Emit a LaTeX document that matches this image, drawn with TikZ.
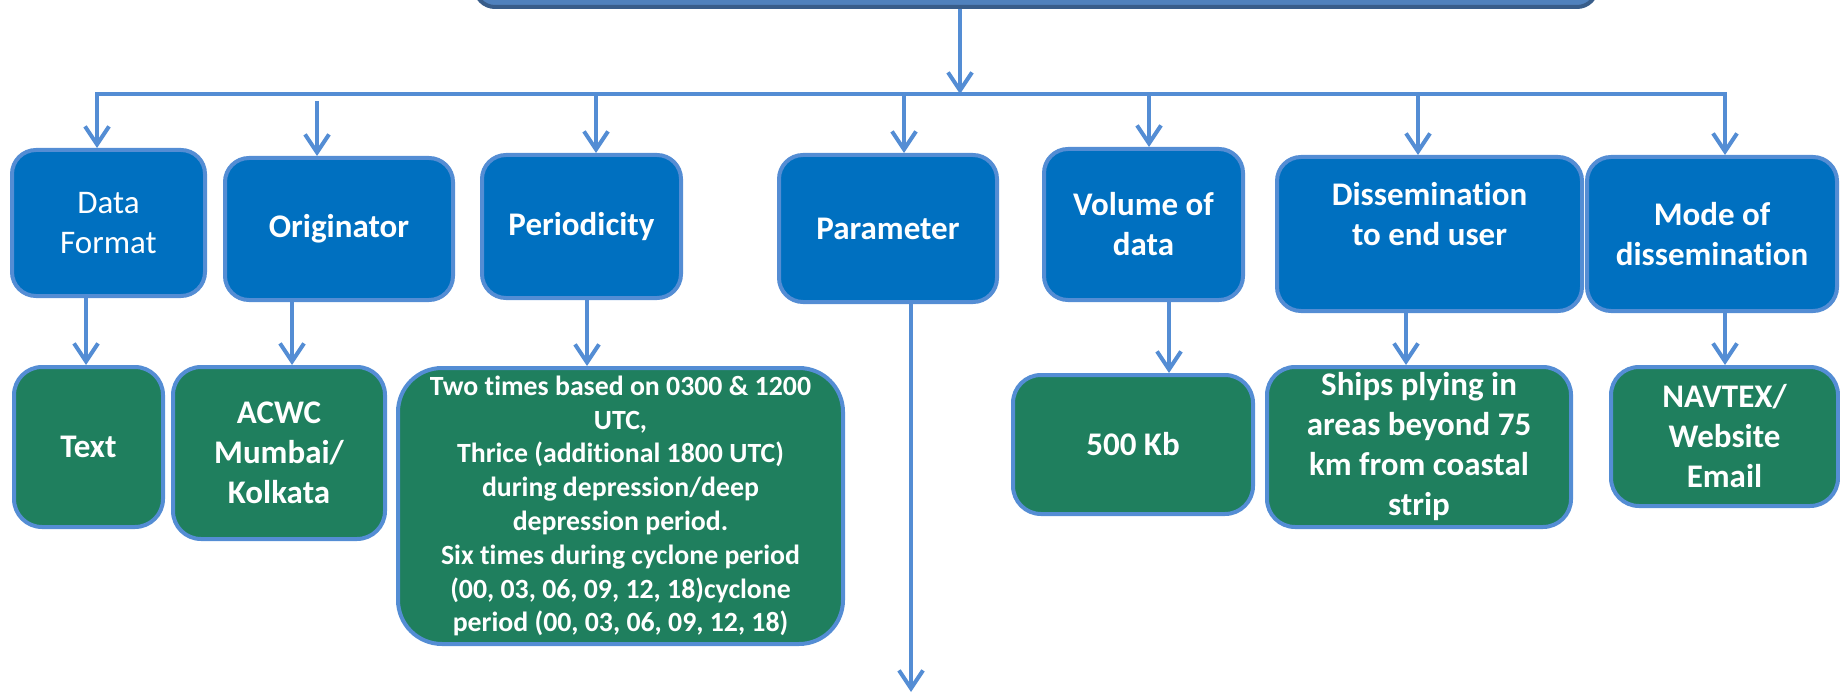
\documentclass[tikz,border=0pt]{standalone}
\usepackage{fontspec}
\setmainfont{Carlito}[Ligatures=NoCommon]
\usetikzlibrary{arrows.meta}

\definecolor{boxblue}{RGB}{0,112,192}
\definecolor{edgeblue}{RGB}{84,141,212}
\definecolor{boxgreen}{RGB}{31,127,94}
\definecolor{topfill}{RGB}{79,129,189}
\definecolor{topedge}{RGB}{56,93,138}

\tikzset{
    head/.style={draw=edgeblue, fill=boxblue, line width=2pt, rounded corners=12pt,
        text=white, align=center, inner sep=0pt, font=\fontsize{16.5}{20}\selectfont\bfseries},
    leaf/.style={draw=edgeblue, fill=boxgreen, line width=2pt, rounded corners=14pt,
        text=white, align=center, inner sep=0pt, font=\fontsize{16.5}{20}\selectfont\bfseries},
    arr/.style={draw=edgeblue, line width=2pt, -{Straight Barb[length=9pt,width=12pt]}},
    bus/.style={draw=edgeblue, line width=2pt, line cap=rect},
}

\begin{document}
\begin{tikzpicture}[x=0.5pt,y=-0.5pt]
        \useasboundingbox (0,0) rectangle (1840,695);

        % top box, only its lower edge shows
        \node[draw=topedge, fill=topfill, line width=2pt, rounded corners=10pt,
              minimum width=561pt, minimum height=40pt] (top) at (1036,-33) {};

        % first row
        \node[head, font=\fontsize{16.5}{20}\selectfont, minimum width=96.5pt, minimum height=73pt] (fmt) at (108.5,223) {Data\\Format};
        \node[head, minimum width=114pt, minimum height=71pt]   (orig) at (339,229)     {Originator};
        \node[head, minimum width=99.5pt, minimum height=71.5pt] (per) at (581.5,226.5) {Periodicity};
        \node[head, minimum width=109pt, minimum height=73.5pt] (par)  at (888,228.5)   {Parameter};
        \node[head, minimum width=99.5pt, minimum height=75.5pt] (vol) at (1143.5,224.5) {Volume of\\data};
        \node[head, minimum width=152.5pt, minimum height=77pt] (diss) at (1429.5,234)  {Dissemination\\to end user\\ \mbox{}};
        \node[head, minimum width=125pt, minimum height=77pt]   (mode) at (1712,234)    {Mode of\\dissemination};

        % second row
        \node[leaf, minimum width=74.5pt, minimum height=80pt]  (txt)  at (88.5,447)  {Text};
        \node[leaf, minimum width=106pt, minimum height=86pt]   (acwc) at (279,453)   {ACWC\\Mumbai/\\Kolkata};
        \node[leaf, rounded corners=22pt, font=\fontsize{13.9}{16.9}\selectfont\bfseries,
              minimum width=222.5pt, minimum height=138pt]      (times) at (620.5,506) {Two times based on 0300 \& 1200\\UTC,\\Thrice (additional 1800 UTC)\\during depression/deep\\depression period.\\Six times during cyclone period\\(00, 03, 06, 09, 12, 18)cyclone\\period (00, 03, 06, 09, 12, 18)};
        \node[leaf, minimum width=120pt, minimum height=69.5pt] (kb)    at (1133,444.5) {500 Kb};
        \node[leaf, minimum width=152pt, minimum height=80pt]   (ships) at (1419,447)   {Ships plying in\\areas beyond 75\\km from coastal\\strip};
        \node[leaf, minimum width=113.5pt, minimum height=69.5pt] (navtex) at (1724.5,436.5) {NAVTEX/\\Website\\Email};

        % bus
        \coordinate (trunk) at (960,94);
        \coordinate (busL) at (97,94);
        \coordinate (busR) at (1725,94);
        \draw[arr] (trunk |- top.south) -- (trunk);
        \draw[bus] (busL) -- (busR);

        \coordinate (d2) at (317,101);
        \coordinate (d3) at (596,94);
        \coordinate (d4) at (904,94);
        \coordinate (d5) at (1149,94);
        \coordinate (d6) at (1418,94);

        \draw[arr] (busL) -- (busL |- fmt.north);
        \draw[arr] (d2) -- (d2 |- orig.north);
        \draw[arr] (d3) -- (d3 |- per.north);
        \draw[arr] (d4) -- (d4 |- par.north);
        \draw[arr] (d5) -- (d5 |- vol.north);
        \draw[arr] (d6) -- (d6 |- diss.north);
        \draw[arr] (busR) -- (busR |- mode.north);

        % down to the second row
        \coordinate (u1) at (86,0);
        \coordinate (u2) at (292,0);
        \coordinate (u3) at (587,0);
        \coordinate (u4) at (911,692);
        \coordinate (u5) at (1169,0);
        \coordinate (u6) at (1406,0);
        \coordinate (u7) at (1725,0);

        \draw[arr] (u1 |- fmt.south)  -- (u1 |- txt.north);
        \draw[arr] (u2 |- orig.south) -- (u2 |- acwc.north);
        \draw[arr] (u3 |- per.south)  -- (u3 |- times.north);
        \draw[arr] (u4 |- par.south)  -- (u4);
        \draw[arr] (u5 |- vol.south)  -- (u5 |- kb.north);
        \draw[arr] (u6 |- diss.south) -- (u6 |- ships.north);
        \draw[arr] (u7 |- mode.south) -- (u7 |- navtex.north);
\end{tikzpicture}
\end{document}
